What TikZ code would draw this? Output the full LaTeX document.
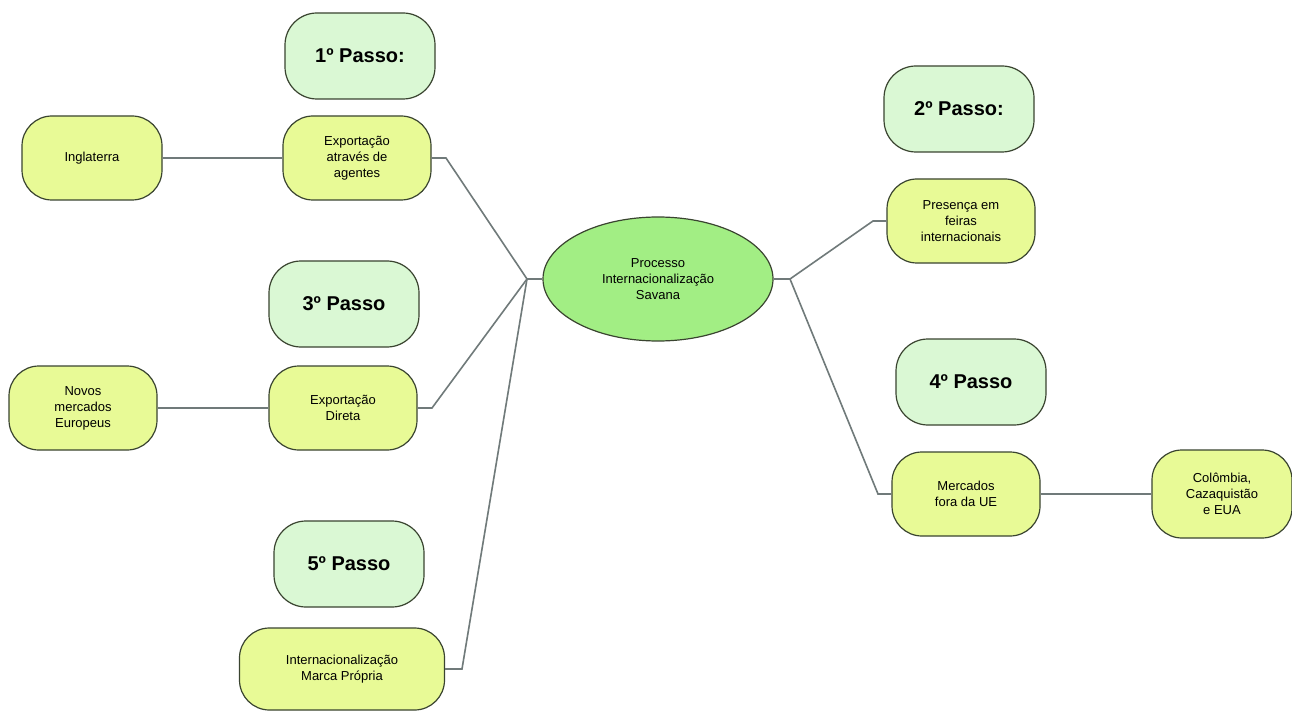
\documentclass[tikz,border=0pt]{standalone}
\usepackage{fontspec}
\setmainfont{Liberation Sans}
\usepackage{xcolor}
\usepackage{tikz}
\usetikzlibrary{shapes.geometric}

\definecolor{passofill}{RGB}{218,248,212}
\definecolor{itemfill}{RGB}{232,250,150}
\definecolor{centerfill}{RGB}{162,238,132}
\definecolor{edgecol}{RGB}{58,68,48}
\definecolor{linkcol}{RGB}{112,122,122}

\tikzset{
  passo/.style={
    draw=edgecol,
    line width=1.2pt,
    fill=passofill,
    rounded corners=32pt,
    minimum width=150pt,
    minimum height=86pt,
    font=\fontsize{20}{23}\selectfont\bfseries,
  },
  item/.style={
    draw=edgecol,
    line width=1.2pt,
    fill=itemfill,
    rounded corners=30pt,
    minimum width=148pt,
    minimum height=84pt,
    align=center,
    font=\fontsize{13}{16}\selectfont,
  },
  link/.style={
    draw=linkcol,
    line width=1.6pt,
  },
}

\begin{document}
\begin{tikzpicture}[x=1pt, y=-1pt]
  \useasboundingbox[fill=white] (0, 0) rectangle (1292, 711);

  % centre
  \node[
    ellipse,
    draw=edgecol,
    line width=1.2pt,
    fill=centerfill,
    minimum width=230pt,
    minimum height=124pt,
    align=center,
    font=\fontsize{13}{16}\selectfont,
  ] (savana) at (658, 279) {Processo\\Internacionalização\\Savana};

  % passos
  \node[passo] (p1) at (360, 56) {1º Passo:};
  \node[passo] (p2) at (959, 109) {2º Passo:};
  \node[passo] (p3) at (344, 304) {3º Passo};
  \node[passo] (p4) at (971, 382) {4º Passo};
  \node[passo] (p5) at (349, 564) {5º Passo};

  % items
  \node[item] (agentes) at (357, 158) {Exportação\\através de\\agentes};
  \node[item, minimum width=140pt] (inglaterra) at (92, 158) {Inglaterra};
  \node[item] (feiras) at (961, 221) {Presença em\\feiras\\internacionais};
  \node[item] (direta) at (343, 408) {Exportação\\Direta};
  \node[item] (europeus) at (83, 408) {Novos\\mercados\\Europeus};
  \node[item] (foraue) at (966, 494) {Mercados\\fora da UE};
  \node[item, minimum width=140pt, minimum height=88pt] (eua) at (1222, 494) {Colômbia,\\Cazaquistão\\e EUA};
  \node[item, minimum width=205pt, minimum height=82pt] (marca) at (342, 669) {Internacionalização\\Marca Própria};

  % hubs and bends
  \coordinate (hubL) at (527, 279);
  \coordinate (hubR) at (790, 279);
  \coordinate (kAgentes) at (446, 158);
  \coordinate (kDireta) at (432, 408);
  \coordinate (kMarca) at (462, 669);
  \coordinate (kFeiras) at (873, 221);
  \coordinate (kForaue) at (878, 494);

  \draw[link] (savana.west) -- (hubL);
  \draw[link] (savana.east) -- (hubR);
  \draw[link] (hubL) -- (kAgentes) -- (agentes.east);
  \draw[link] (hubL) -- (kDireta) -- (direta.east);
  \draw[link] (hubL) -- (kMarca) -- (marca.east);
  \draw[link] (hubR) -- (kFeiras) -- (feiras.west);
  \draw[link] (hubR) -- (kForaue) -- (foraue.west);
  \draw[link] (inglaterra) -- (agentes);
  \draw[link] (europeus) -- (direta);
  \draw[link] (foraue) -- (eua);
\end{tikzpicture}
\end{document}
